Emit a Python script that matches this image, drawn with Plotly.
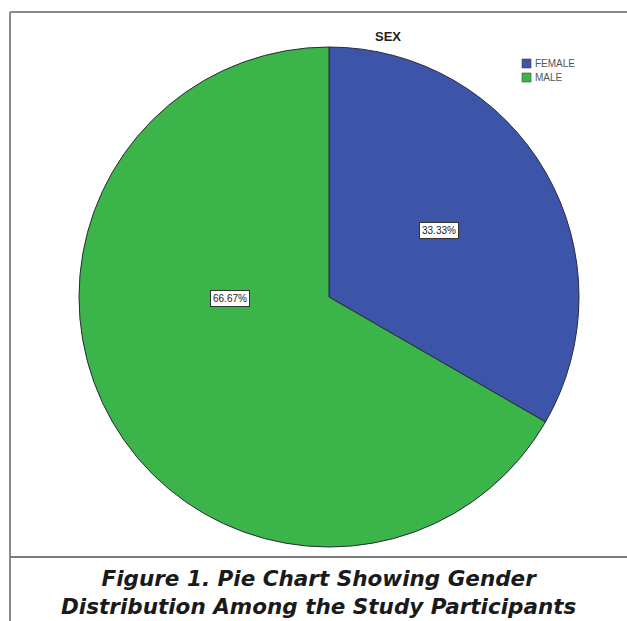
import plotly.graph_objects as go

# Gender distribution of study participants
categories = ["FEMALE", "MALE"]
percentages = [33.33, 66.67]
colors = ["#3D55A8", "#3BB54A"]

W, H = 627, 621

fig = go.Figure()

fig.add_trace(go.Pie(
    labels=categories,
    values=percentages,
    sort=False,
    direction="clockwise",
    rotation=0,
    marker=dict(colors=colors, line=dict(color="#2a2a3a", width=1)),
    textinfo="none",
    hoverinfo="label+percent",
    showlegend=False,
    domain=dict(x=[79 / W, 579 / W], y=[(H - 547) / H, (H - 47) / H]),
))

def px(x):
    return x / W

def py(y):
    return 1 - y / H

annotations = []
shapes = []

# Percentage labels in white boxes
label_pos = [(439, 230), (230, 298)]
for val, (lx, ly) in zip(percentages, label_pos):
    annotations.append(dict(
        x=px(lx), y=py(ly), xref="paper", yref="paper",
        xanchor="center", yanchor="middle",
        text=f"{val:.2f}%", showarrow=False,
        font=dict(family="Liberation Sans, Arial", size=10, color="#222"),
        bgcolor="white", bordercolor="#333", borderwidth=1, borderpad=2,
    ))

# Chart title
annotations.append(dict(
    x=px(388), y=py(36), xref="paper", yref="paper",
    xanchor="center", yanchor="middle",
    text="<b>SEX</b>", showarrow=False,
    font=dict(family="Liberation Sans, Arial", size=13, color="#222"),
))

# Compact legend: swatch + label per category
for i, (cat, col) in enumerate(zip(categories, colors)):
    top = 59 + 14 * i
    shapes.append(dict(
        type="rect", xref="paper", yref="paper",
        x0=px(522), x1=px(531), y0=py(top + 9), y1=py(top),
        fillcolor=col, line=dict(color="#444", width=0.6),
    ))
    annotations.append(dict(
        x=px(533), y=py(top + 4.5), xref="paper", yref="paper",
        xanchor="left", yanchor="middle",
        text=cat, showarrow=False,
        font=dict(family="Liberation Sans, Arial", size=10, color="#555"),
    ))

# Caption below the chart
annotations.append(dict(
    x=px(319), y=py(592), xref="paper", yref="paper",
    xanchor="center", yanchor="middle",
    text="<b><i>Figure 1. Pie Chart Showing Gender</i></b><br>"
         "<b><i>Distribution Among the Study Participants</i></b>",
    showarrow=False,
    font=dict(family="DejaVu Sans, Verdana", size=21.5, color="#1a1a1a"),
    align="center",
))

shapes += [
    # outer frame: top and left edges
    dict(type="line", xref="paper", yref="paper",
         x0=px(10), x1=1, y0=py(12), y1=py(12),
         line=dict(color="#8a8a8a", width=2)),
    dict(type="line", xref="paper", yref="paper",
         x0=px(10), x1=px(10), y0=py(12), y1=0,
         line=dict(color="#8a8a8a", width=2)),
    # separator above the caption
    dict(type="line", xref="paper", yref="paper",
         x0=px(10), x1=1, y0=py(557), y1=py(557),
         line=dict(color="#7a7a7a", width=2)),
]

fig.update_layout(
    width=W, height=H,
    margin=dict(l=0, r=0, t=0, b=0),
    paper_bgcolor="white",
    plot_bgcolor="rgba(0,0,0,0)",
    xaxis=dict(visible=False),
    yaxis=dict(visible=False),
    annotations=annotations,
    shapes=shapes,
    showlegend=False,
)

fig.write_html("out.html")
